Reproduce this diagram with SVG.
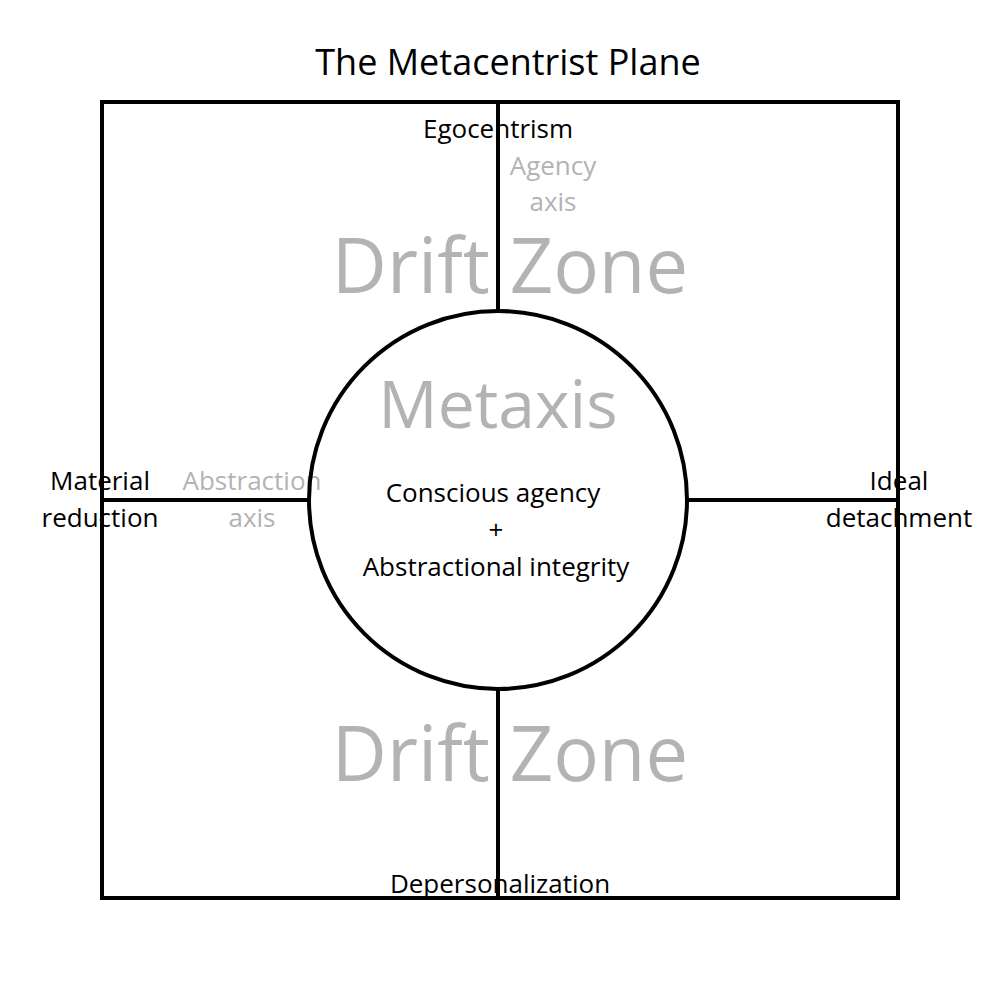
<svg xmlns="http://www.w3.org/2000/svg" width="1000" height="1000" viewBox="0 0 1000 1000">
<style>
.t{font-family:"Open Sans","Noto Sans",sans-serif;text-anchor:middle;fill:#000}
.g{fill:#b3b3b3}
.ln{stroke:#000;stroke-width:4;fill:none}
</style>
<rect width="1000" height="1000" fill="#fff"/>
<text class="t" x="508" y="75" font-size="36">The Metacentrist Plane</text>
<g id="frame"><rect class="ln" x="102" y="102" width="796" height="796"/></g>
<g id="connectors">
<line class="ln" x1="498" y1="102" x2="498" y2="311"/>
<line class="ln" x1="498" y1="689" x2="498" y2="898"/>
<line class="ln" x1="102" y1="500" x2="309" y2="500"/>
<line class="ln" x1="687" y1="500" x2="898" y2="500"/>
</g>
<g id="drift-top"><text class="t g" x="510" y="293" font-size="76">Drift Zone</text></g>
<g id="drift-bottom"><text class="t g" x="510" y="781" font-size="76">Drift Zone</text></g>
<g id="egocentrism"><text class="t" x="498" y="138" font-size="26">Egocentrism</text></g>
<g id="agency-axis"><text class="t g" x="553" y="175" font-size="26">Agency</text><text class="t g" x="553" y="211" font-size="26">axis</text></g>
<g id="material"><text class="t" x="100" y="490" font-size="26">Material</text><text class="t" x="100" y="527" font-size="26">reduction</text></g>
<g id="abstraction-axis"><text class="t g" x="252" y="490" font-size="26">Abstraction</text><text class="t g" x="252" y="527" font-size="26">axis</text></g>
<g id="ideal"><text class="t" x="899" y="490" font-size="26">Ideal</text><text class="t" x="899" y="527" font-size="26">detachment</text></g>
<g id="depersonalization"><text class="t" x="500" y="893" font-size="26">Depersonalization</text></g>
<g id="metaxis">
<circle class="ln" cx="498" cy="500" r="189" fill="#fff"/>
<text class="t g" x="498" y="428" font-size="66">Metaxis</text>
<text class="t" x="493" y="502" font-size="26">Conscious agency</text>
<text class="t" x="496" y="539" font-size="26">+</text>
<text class="t" x="496" y="576" font-size="26">Abstractional integrity</text>
</g>
</svg>
